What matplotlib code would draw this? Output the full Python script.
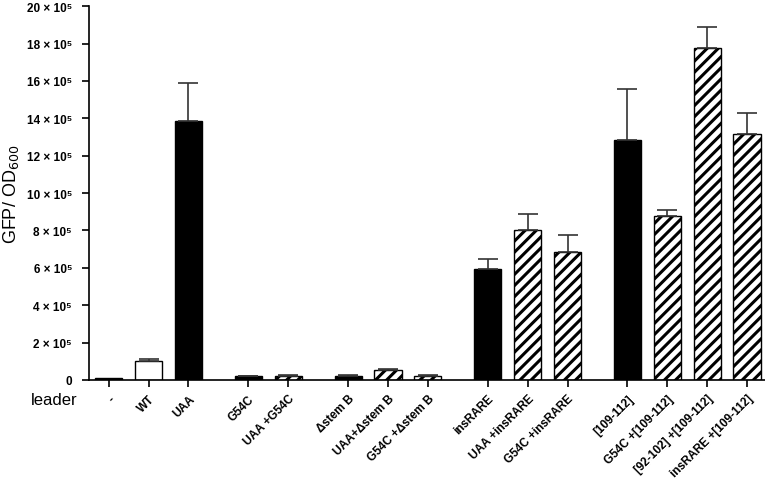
import numpy as np
import matplotlib
matplotlib.use("Agg")
import matplotlib.pyplot as plt

plt.rcParams['font.family'] = ['Liberation Sans', 'DejaVu Sans']
plt.rcParams['hatch.linewidth'] = 2.2

# Dati (unita: 10^5)
labels = ['-', 'WT', 'UAA',
          'G54C', 'UAA +G54C',
          '\u0394stem B', 'UAA+\u0394stem B', 'G54C +\u0394stem B',
          'insRARE', 'UAA +insRARE', 'G54C +insRARE',
          '[109-112]', 'G54C +[109-112]', '[92-102] +[109-112]', 'insRARE +[109-112]']
group = [0, 0, 0, 1, 1, 2, 2, 2, 3, 3, 3, 4, 4, 4, 4]
values = [0.1, 1.0, 13.85, 0.2, 0.23, 0.23, 0.55, 0.23, 5.95, 8.02, 6.84, 12.82, 8.77, 17.79, 13.16]
errors = [0.0, 0.1, 2.05, 0.03, 0.02, 0.06, 0.04, 0.02, 0.5, 0.86, 0.9, 2.76, 0.32, 1.12, 1.12]
style = ['black', 'white', 'black', 'black', 'hatch', 'black', 'hatch', 'hatch',
         'black', 'hatch', 'hatch', 'black', 'hatch', 'hatch', 'hatch']

x = np.arange(len(labels)) + 0.5 * np.array(group)

fig = plt.figure(figsize=(7.65, 4.81), dpi=100)
ax = fig.add_axes([0.116, 0.208, 0.884, 0.777])

for xi, v, e, s in zip(x, values, errors, style):
    if s == 'black':
        ax.bar(xi, v * 1e5, width=0.68, color='black', edgecolor='black', linewidth=1)
    elif s == 'white':
        ax.bar(xi, v * 1e5, width=0.68, color='white', edgecolor='black', linewidth=1)
    else:
        ax.bar(xi, v * 1e5, width=0.68, color='white', edgecolor='black', linewidth=1, hatch='///')
    if e > 0:
        ax.errorbar(xi, v * 1e5, yerr=[[0], [e * 1e5]], color='#333333', capsize=7,
                    elinewidth=1.2, capthick=1.2)

ax.set_xlim(-0.5, 16.45)
ax.set_ylim(0, 20e5)
yt = np.arange(0, 21, 2)
ax.set_yticks(yt * 1e5)
ax.set_yticklabels(['0'] + ['%d \u00d7 10\u2075' % t for t in yt[1:]], fontsize=8.5, fontweight='bold')
ax.set_xticks(x)
ax.set_xticklabels(labels, rotation=45, ha='right', rotation_mode='anchor', fontsize=8.5, fontweight='bold')
ax.tick_params(axis='both', direction='out', length=5, width=1.2)
ax.tick_params(axis='y', pad=7)
ax.tick_params(axis='x', pad=4)
ax.spines['top'].set_visible(False)
ax.spines['right'].set_visible(False)
ax.spines['left'].set_linewidth(1.2)
ax.spines['bottom'].set_linewidth(1.2)

ax.set_ylabel('GFP/ OD$_{600}$', fontsize=13)
ax.yaxis.set_label_coords(-0.1, 0.5)
fig.text(0.04, 0.158, 'leader', fontsize=12)

fig.savefig('out.png', dpi=100)
